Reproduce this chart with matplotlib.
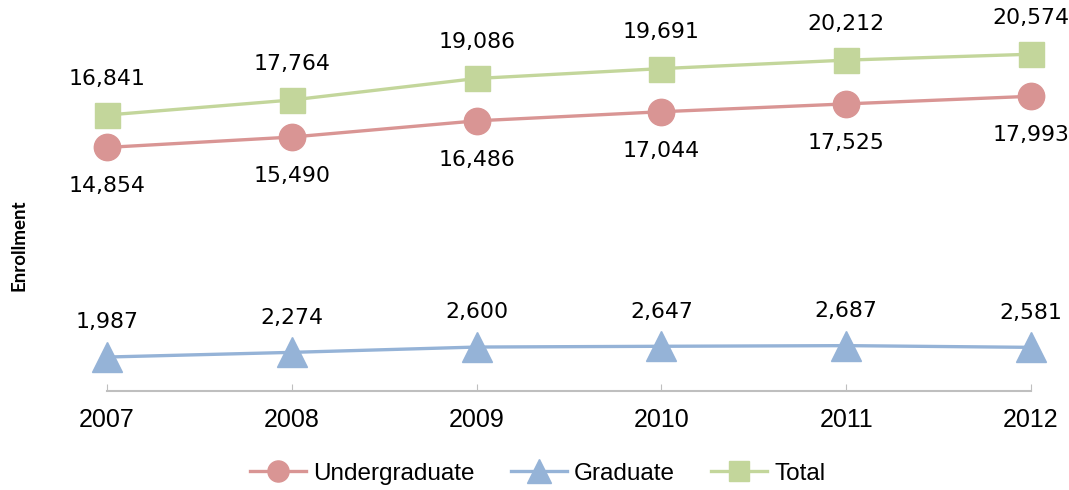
import matplotlib
matplotlib.use("Agg")
import matplotlib.pyplot as plt

years = ["2007", "2008", "2009", "2010", "2011", "2012"]
undergraduate = [14854, 15490, 16486, 17044, 17525, 17993]
graduate = [1987, 2274, 2600, 2647, 2687, 2581]
total = [16841, 17764, 19086, 19691, 20212, 20574]

c_ug = "#D99594"
c_gr = "#95B3D7"
c_tot = "#C3D69B"

fig = plt.figure(figsize=(10.69, 4.90), dpi=100)
ax = fig.add_axes([0.1001, 0.202, 0.8644, 0.768])

x = list(range(len(years)))
ax.plot(x, undergraduate, color=c_ug, lw=2.4, marker="o", ms=19, clip_on=False, label="Undergraduate", zorder=3)
ax.plot(x, graduate, color=c_gr, lw=2.4, marker="^", ms=21, clip_on=False, label="Graduate", zorder=3)
ax.plot(x, total, color=c_tot, lw=2.4, marker="s", ms=18, clip_on=False, label="Total", zorder=3)

lab_font = dict(family="DejaVu Sans", fontsize=15.8, color="black", ha="center", va="center")
for i in x:
    ax.annotate(f"{total[i]:,}", (i, total[i]), xytext=(0, 26), textcoords="offset points", **lab_font)
    ax.annotate(f"{undergraduate[i]:,}", (i, undergraduate[i]), xytext=(0, -28), textcoords="offset points", **lab_font)
    ax.annotate(f"{graduate[i]:,}", (i, graduate[i]), xytext=(0, 25), textcoords="offset points", **lab_font)

ax.set_xlim(0, len(years) - 1)
ax.set_ylim(-99, 23000)
ax.set_xticks(x)
ax.set_xticklabels(years, family="Liberation Sans", fontsize=18)
ax.tick_params(axis="x", direction="in", length=5, color="#BFBFBF", pad=12)
ax.set_yticks([])
for s in ["top", "right", "left"]:
    ax.spines[s].set_visible(False)
ax.spines["bottom"].set_color("#BFBFBF")
ax.spines["bottom"].set_linewidth(1.5)

fig.text(0.018, 0.5, "Enrollment", rotation=90, va="center", ha="center",
         family="Lato", fontweight="bold", fontsize=13.5)

leg = fig.legend(loc="center", bbox_to_anchor=(0.503, 0.033), ncol=3, frameon=False,
                 prop=dict(family="Liberation Sans", size=17.5), handlelength=2.3,
                 columnspacing=1.5, handletextpad=0.3, markerscale=0.8)

fig.savefig("out.png", dpi=100)
